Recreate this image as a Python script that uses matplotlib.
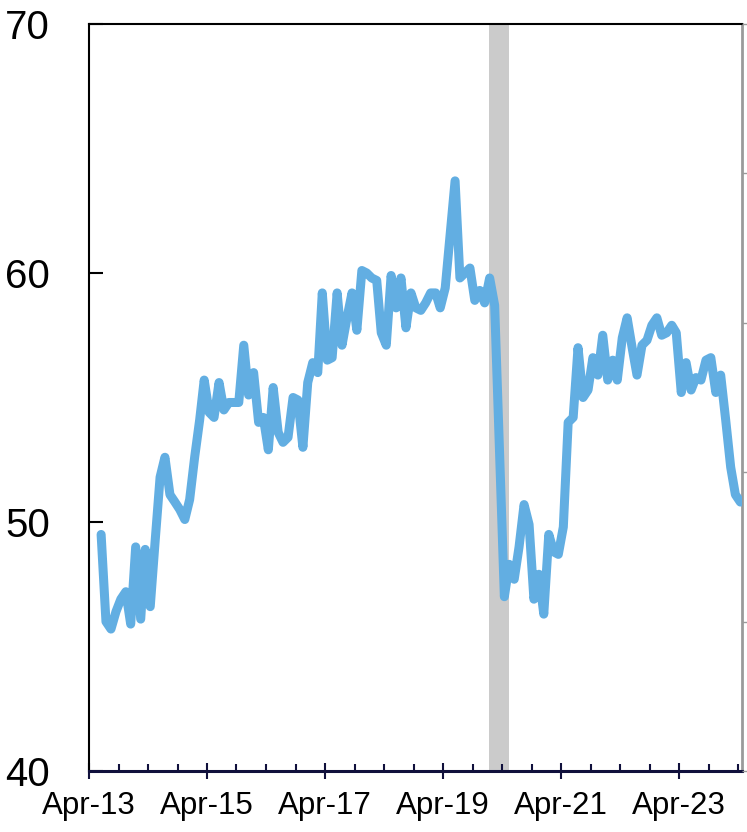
import numpy as np
import pandas as pd
import matplotlib
matplotlib.use("Agg")
import matplotlib.pyplot as plt
import matplotlib.dates as mdates

plt.rcParams['font.family'] = ['Liberation Sans', 'DejaVu Sans']

# monthly index values, Jun-13 .. Apr-24
start_month = '2013-06-01'
values = [
    49.5, 46.0, 45.7, 46.4, 46.9, 47.2, 45.9, 49.0, 46.1, 48.9,
    46.6, 49.2, 51.8, 52.6, 51.1, 50.8, 50.5, 50.1, 50.9, 52.6,
    54.1, 55.7, 54.4, 54.2, 55.6, 54.5, 54.8, 54.8, 54.8, 57.1,
    55.1, 56.0, 54.0, 54.2, 52.9, 55.4, 53.6, 53.2, 53.4, 55.0,
    54.9, 53.0, 55.6, 56.4, 56.0, 59.2, 56.5, 56.6, 59.2, 57.1,
    58.2, 59.2, 57.7, 60.1, 60.0, 59.8, 59.7, 57.6, 57.1, 59.9,
    58.6, 59.8, 57.8, 59.2, 58.6, 58.5, 58.8, 59.2, 59.2, 58.6,
    59.4, 61.5, 63.7, 59.8, 60.0, 60.2, 58.9, 59.3, 58.8, 59.8,
    58.7, 53.0, 47.0, 48.3, 47.7, 49.0, 50.7, 49.9, 46.9, 47.9,
    46.3, 49.5, 48.8, 48.7, 49.8, 54.0, 54.2, 57.0, 55.0, 55.3,
    56.6, 55.9, 57.5, 55.7, 56.5, 55.7, 57.4, 58.2, 57.0, 55.9,
    57.1, 57.3, 57.9, 58.2, 57.5, 57.6, 57.9, 57.6, 55.2, 56.4,
    55.3, 55.8, 55.7, 56.5, 56.6, 55.2, 55.9, 54.1, 52.2, 51.1,
    50.8,
]
recession = ('2020-01-11', '2020-05-13')
y_ticks = [40, 50, 60, 70]
x_tick_dates = ['2013-04-01', '2015-04-01', '2017-04-01',
                '2019-04-01', '2021-04-01', '2023-04-01']

dates = pd.date_range(start_month, periods=len(values), freq='MS') + pd.Timedelta(days=14)

fig = plt.figure(figsize=(7.47, 8.32), dpi=100)
ax = fig.add_axes([89/747, 1 - 771/832, (742 - 89)/747, (771 - 24)/832])

ax.axvspan(pd.Timestamp(recession[0]), pd.Timestamp(recession[1]),
           color='#cbcbcb', lw=0, zorder=1)
ax.plot(dates, values, color='#62aee2', lw=6.5, solid_joinstyle='round',
        solid_capstyle='round', zorder=3)

ax.set_xlim(pd.Timestamp('2013-04-01'), pd.Timestamp('2024-04-25'))
ax.set_ylim(40, 70)
ax.set_yticks(y_ticks)

ax.set_xticks([mdates.date2num(pd.Timestamp(d)) for d in x_tick_dates])
ax.xaxis.set_minor_locator(mdates.MonthLocator(bymonth=[4, 10]))
ax.xaxis.set_major_formatter(mdates.DateFormatter('%b-%y'))

navy = '#10103c'
ax.spines['bottom'].set_color(navy)
ax.spines['bottom'].set_linewidth(2.2)
ax.spines['left'].set_linewidth(1.5)
ax.spines['top'].set_linewidth(1.5)
ax.spines['right'].set_color('#9a9a9a')
ax.spines['right'].set_linewidth(2)

ax.tick_params(axis='x', which='major', direction='inout', length=11, width=1.5,
               color=navy, labelsize=22.5, pad=9)
ax.tick_params(axis='x', which='minor', direction='in', length=5, width=1.5, color=navy)
ax.tick_params(axis='y', which='major', direction='in', length=10, width=1.5,
               labelsize=29, pad=28)

ax2 = ax.twinx()
ax2.set_ylim(0, 5)
ax2.set_yticks(range(6))
ax2.tick_params(axis='y', direction='out', length=4, width=1, color='#9a9a9a',
                labelright=False)
for s in ax2.spines.values():
    s.set_visible(False)

fig.savefig('out.png', dpi=100)
